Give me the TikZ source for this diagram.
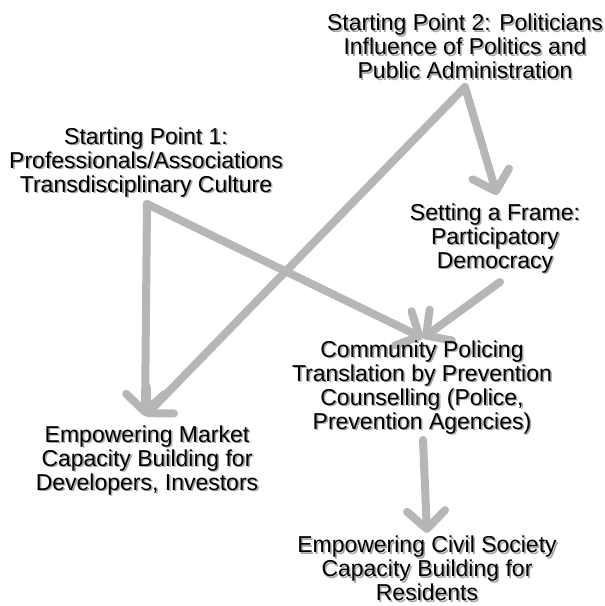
\documentclass[tikz,border=0pt]{standalone}
\usepackage{fontspec}
\setmainfont{Liberation Sans}
\usetikzlibrary{arrows.meta}
\definecolor{arrowgray}{RGB}{182,182,182}
\definecolor{shadowgray}{RGB}{165,165,165}
\newcommand\sh[1]{\rlap{\kern1.6pt\raisebox{-1.6pt}{\color{shadowgray}#1}}#1}
\begin{document}
\begin{tikzpicture}[x=1pt,y=-1pt,
  lbl/.style={align=center,font=\fontsize{23}{24}\selectfont,inner sep=0pt},
  arr/.style={draw=arrowgray,line width=8pt,line cap=round,
    -{Straight Barb[length=18pt,width=38pt,line cap=round,line join=round]}}]
\useasboundingbox[fill=white] (0,0) rectangle (605,606);
% corners and arrow ends
\coordinate (c2) at (465,87);
\coordinate (c1) at (147,204);
\coordinate (tmarket) at (145,416);
\coordinate (tframe) at (497,195);
\coordinate (tcomm) at (423,338);
\coordinate (sframe) at (500,282);
\coordinate (scomm) at (423,440);
\coordinate (tcivil) at (427,533);
% arrows
\draw[arr] (c2) -- (tmarket);
\draw[arr] (c2) -- (tframe);
\draw[arr] (c1) -- (tmarket);
\draw[arr] (c1) -- (tcomm);
\draw[arr] (sframe) -- (tcomm);
\draw[arr] (scomm) -- (tcivil);
% labels
\node[lbl] (sp2) at (465,47) {\sh{Starting Point 2: Politicians}\\\sh{Influence of Politics and}\\\sh{Public Administration}};
\node[lbl] (sp1) at (146,163) {\sh{Starting Point 1:}\\\sh{Professionals/Associations}\\\sh{Transdisciplinary Culture}};
\node[lbl] (frame) at (495,239) {\sh{Setting a Frame:}\\\sh{Participatory}\\\sh{Democracy}};
\node[lbl] (comm) at (422,388) {\sh{Community Policing}\\\sh{Translation by Prevention}\\\sh{Counselling (Police,}\\\sh{Prevention Agencies)}};
\node[lbl] (market) at (147,461) {\sh{Empowering Market}\\\sh{Capacity Building for}\\\sh{Developers, Investors}};
\node[lbl] (civil) at (427,569) {\sh{Empowering Civil Society}\\\sh{Capacity Building for}\\\sh{Residents}};
\end{tikzpicture}
\end{document}
